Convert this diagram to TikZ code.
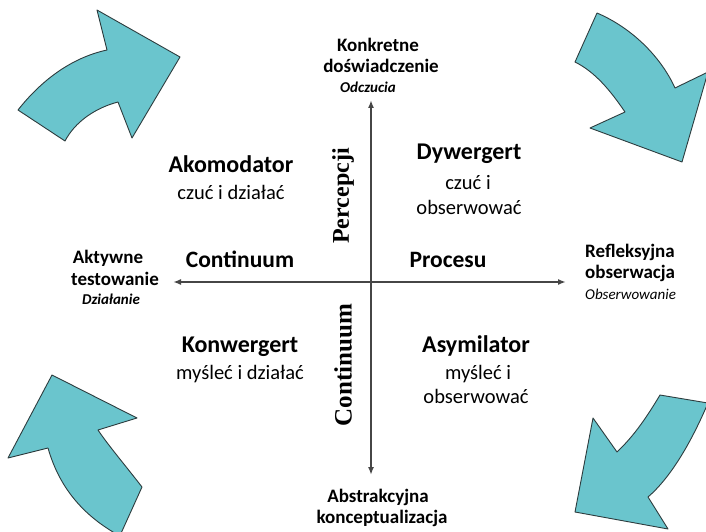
\documentclass[tikz,border=0pt]{standalone}
\usepackage{fontspec}
\setmainfont{Carlito}
\newfontfamily\serifbold{Liberation Serif}
\usetikzlibrary{arrows.meta}
\definecolor{teal1}{RGB}{106,197,205}
\definecolor{edge1}{RGB}{45,60,62}
\definecolor{axisgray}{RGB}{70,70,70}
\tikzset{
  bigarrow/.style={fill=teal1,draw=edge1,line width=0.9pt,line join=round},
  axisline/.style={draw=axisgray,line width=1.6pt,{Latex[length=8pt,width=6pt]}-{Latex[length=8pt,width=6pt]}},
  pole/.style={font=\fontsize{19}{22}\selectfont\bfseries,anchor=base,inner sep=0pt},
  poleit/.style={font=\fontsize{15}{18}\selectfont\bfseries\itshape,anchor=base,inner sep=0pt},
  poleitr/.style={font=\fontsize{15}{18}\selectfont\itshape,anchor=base,inner sep=0pt},
  qtitle/.style={font=\fontsize{24}{28}\selectfont\bfseries,anchor=base,inner sep=0pt},
  qsub/.style={font=\fontsize{20.5}{24}\selectfont,anchor=base,inner sep=0pt},
  axlabel/.style={font=\fontsize{23.5}{28}\selectfont\bfseries,anchor=base,inner sep=0pt},
  rotlabel/.style={font=\fontsize{24}{28}\selectfont\serifbold\bfseries,rotate=90,inner sep=0pt},
}
\begin{document}
\begin{tikzpicture}[x=1pt,y=-1pt]
\useasboundingbox (0,0) rectangle (706,532);
% curved arrows
\draw[bigarrow] (18,110) .. controls (40,82) and (70,58) .. (107,50) -- (97,10) -- (180,57) -- (132,138) -- (118,102) .. controls (95,108) and (75,122) .. (65,141) -- cycle;
\draw[bigarrow] (597,13) .. controls (630,27) and (660,55) .. (675,88) -- (708,72) -- (682,162) -- (590,128) -- (625,112) .. controls (610,90) and (595,72) .. (575,62) -- cycle;
\draw[bigarrow] (142,487) .. controls (125,465) and (108,445) .. (98,430) -- (137,418) -- (52,375) -- (8,458) -- (48,448) .. controls (60,490) and (85,515) .. (113,532) -- (118,540) -- cycle;
\draw[bigarrow] (660,395) -- (708,403) .. controls (690,445) and (670,478) .. (648,497) -- (668,529) -- (575,512) -- (593,418) -- (617,452) .. controls (635,435) and (648,415) .. (660,395) -- cycle;
% axes
\coordinate (top) at (371,100);
\coordinate (bottom) at (371,475);
\coordinate (left) at (173,282);
\coordinate (right) at (566,282);
\draw[axisline] (bottom) -- (top);
\draw[axisline] (left) -- (right);
% poles
\node[pole] (k1) at (378,52) {Konkretne};
\node[pole] (k2) at (381,73) {doświadczenie};
\node[poleit] (k3) at (368,93) {Odczucia};
\node[pole] (a1) at (108,263) {Aktywne};
\node[pole] (a2) at (115,285) {testowanie};
\node[poleit] (a3) at (111,304) {Działanie};
\node[pole,anchor=base west] (r1) at (585,257) {Refleksyjna};
\node[pole,anchor=base west] (r2) at (585,278) {obserwacja};
\node[poleitr,anchor=base west] (r3) at (585,299) {Obserwowanie};
\node[pole] (b1) at (378,502) {Abstrakcyjna};
\node[pole] (b2) at (382,523) {konceptualizacja};
% quadrants
\node[qtitle] (akt) at (231,172) {Akomodator};
\node[qsub] (aks) at (231,199) {czuć i działać};
\node[qtitle] (dyt) at (469,159) {Dywergert};
\node[qsub] (dys1) at (468,189) {czuć i};
\node[qsub] (dys2) at (469,214) {obserwować};
\node[qtitle] (kot) at (240,352) {Konwergert};
\node[qsub] (kos) at (240,379) {myśleć i działać};
\node[qtitle] (ast) at (476,352) {Asymilator};
\node[qsub] (ass1) at (478,379) {myśleć i};
\node[qsub] (ass2) at (476,403) {obserwować};
% axis labels
\node[axlabel] (cont) at (240,267) {Continuum};
\node[axlabel] (proc) at (448,267) {Procesu};
\node[rotlabel] (perc) at (343,196) {Percepcji};
\node[rotlabel,font=\fontsize{25}{28}\selectfont\serifbold\bfseries] (cont2) at (343,365) {Continuum};
\end{tikzpicture}
\end{document}
